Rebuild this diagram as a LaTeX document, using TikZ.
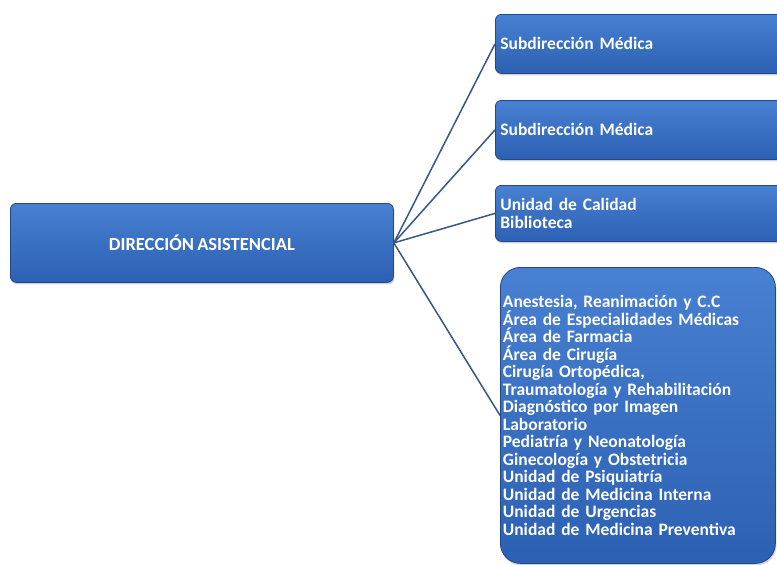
\documentclass[tikz,border=0pt]{standalone}
\usepackage{fontspec}
\setmainfont{Carlito}
\usepackage{tikz}
\usetikzlibrary{shadows}
\usepackage{xcolor}

\definecolor{boxtop}{RGB}{72,128,210}
\definecolor{boxbot}{RGB}{44,96,178}
\definecolor{boxedge}{RGB}{34,72,138}
\definecolor{linkblue}{RGB}{58,86,134}

\newcommand{\tightwords}{\spaceskip=0.18em plus 0.05em\relax}

\tikzset{
  orgbox/.style={draw=boxedge, line width=0.8pt, top color=boxtop, bottom color=boxbot,
    rounded corners=6pt, text=white, font=\bfseries, drop shadow={opacity=0.35, shadow xshift=1pt, shadow yshift=-2pt}},
  subbox/.style={orgbox, anchor=north west, minimum width=300pt, align=left,
    text width=290pt, inner xsep=2pt, font={\bfseries\fontsize{17.5}{17.5}\selectfont\tightwords}},
  link/.style={draw=linkblue, line width=1.5pt}
}

\begin{document}
\begin{tikzpicture}[x=1pt, y=-1pt]
                \useasboundingbox (0,0) rectangle (777,565);
                \clip (0,0) rectangle (777,565);

                \node[orgbox, anchor=north west, minimum width=383pt, minimum height=79pt,
                        font={\bfseries\fontsize{18.5}{20}\selectfont\tightwords}] (dir) at (10,203) {DIRECCIÓN ASISTENCIAL};

                \node[subbox, minimum height=59pt] (sub1) at (495,14) {Subdirección Médica};
                \node[subbox, minimum height=59pt] (sub2) at (495,100) {Subdirección Médica};
                \node[subbox, minimum height=56pt] (cal) at (495,185) {Unidad de Calidad\\Biblioteca};
                \node[subbox, rounded corners=20pt, minimum width=275pt, text width=270pt,
                        minimum height=296pt] (areas) at (500,267) {%
                        Anestesia, Reanimación y C.C\\
                        Área de Especialidades Médicas\\
                        Área de Farmacia\\
                        Área de Cirugía\\
                        Cirugía Ortopédica,\\
                        Traumatología y Rehabilitación\\
                        Diagnóstico por Imagen\\
                        Laboratorio\\
                        Pediatría y Neonatología\\
                        Ginecología y Obstetricia\\
                        Unidad de Psiquiatría\\
                        Unidad de Medicina Interna\\
                        Unidad de Urgencias\\
                        Unidad de Medicina Preventiva};

                \foreach \n in {sub1,sub2,cal,areas} {
                        \draw[link] (dir.east) -- (\n.west);
                    }

            \end{tikzpicture}
\end{document}
